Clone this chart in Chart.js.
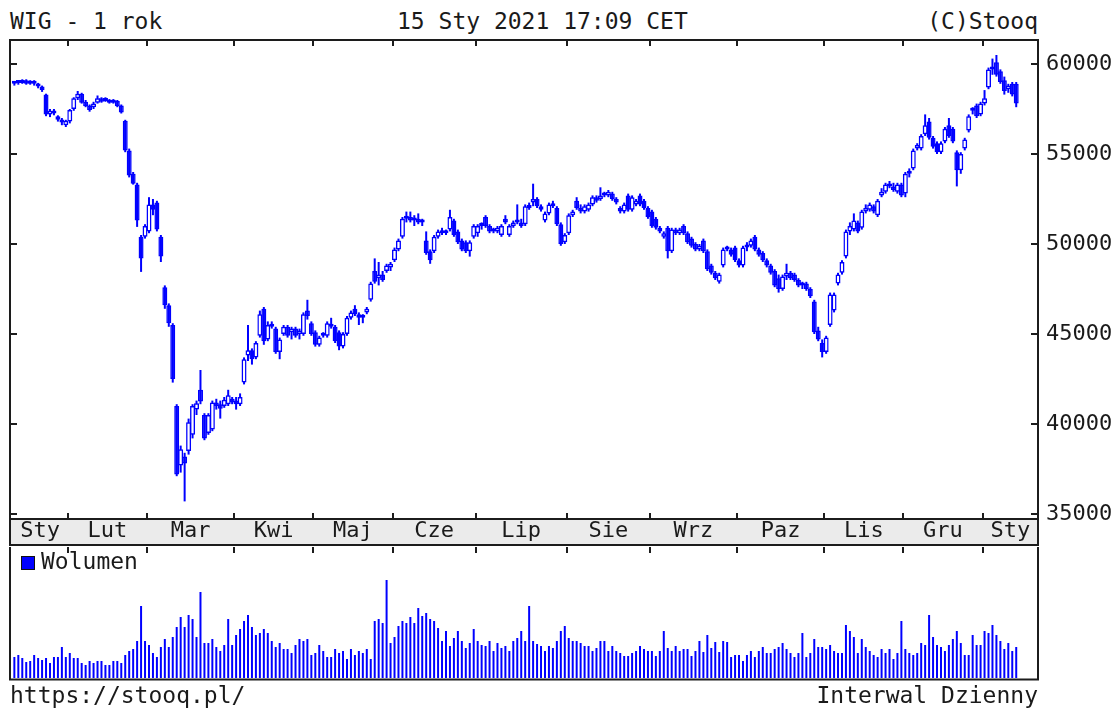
<!DOCTYPE html>
<html>
<head>
<meta charset="utf-8">
<script src="https://cdn.jsdelivr.net/npm/chart.js@4.4.0/dist/chart.umd.min.js"></script>
<style>
  body { margin: 0; background: #fff; width: 1117px; height: 709px; overflow: hidden; position: relative;
         font-family: "DejaVu Sans Mono", monospace; color: #1a1a1a; }
  .txt { position: absolute; font-size: 23px; line-height: 23px; white-space: pre; }
  canvas { position: absolute; left: 0; }
  #priceChart { top: 0; }
  #volChart { top: 547px; }
  #legBox { position: absolute; left: 21px; top: 556px; width: 12px; height: 12px; background: #0000ff; border: 1px solid #111; }
</style>
</head>
<body>
<div class="txt" style="left:10px; top:10px">WIG - 1 rok</div>
<div class="txt" style="left:397px; top:10px">15 Sty 2021 17:09 CET</div>
<div class="txt" style="right:79px; top:10px">(C)Stooq</div>
<canvas id="priceChart" width="1117" height="547"></canvas>
<canvas id="volChart" width="1117" height="162"></canvas>
<div id="legBox"></div>
<div class="txt" style="left:41px; top:550px">Wolumen</div>
<div class="txt" style="left:10px; top:684px">https://stooq.pl/</div>
<div class="txt" style="right:79px; top:684px">Interwal Dzienny</div>
<script>
// WIG, daily candles 14.01.2020 - 15.01.2021
const monthLabels = ['Sty', 'Lut', 'Mar', 'Kwi', 'Maj', 'Cze', 'Lip', 'Sie', 'Wrz', 'Paz', 'Lis', 'Gru', 'Sty'];
// index of the first session of each month
const monthStarts = [0, 14, 34, 56, 76, 96, 117, 140, 161, 183, 205, 225, 245];
const priceTicks = [35000, 40000, 45000, 50000, 55000, 60000];

const openVals = [
  58900,58950,58950,59100,58900,59000,58850,58750,58300,57200,57400,57100,56900,56600,
  56800,57500,58100,58350,57900,57700,57600,57850,58100,57950,58000,57850,57950,57700,56850,55200,53900,53300,50400,50400,
  50700,52200,52300,50400,47600,46600,45500,41000,37700,38200,38500,39400,40800,41900,40500,39500,39700,41200,41100,41000,41100,41400,
  41300,41100,42300,43800,44100,43700,44900,46400,44700,45500,45300,44000,45000,45400,45100,45300,45000,45000,46300,45600,
  45100,44400,44900,44900,45500,45400,45100,44300,45000,45900,46400,46100,45900,46200,46900,48500,48100,48300,48500,48700,
  49100,49700,50400,51400,51500,51300,51400,51200,50200,49600,49600,50400,50700,50600,50800,51300,50700,50200,50100,49600,50400,
  50600,51000,51500,51000,50800,50700,50500,51400,50500,51000,51200,51200,51100,52100,52300,52500,52100,51300,51700,52200,52000,51100,50100,
  50600,51600,52400,52000,51800,51900,52200,52600,52500,52700,52700,52800,52500,52000,51800,52700,51900,52200,52700,52400,52000,
  51800,51400,50900,50400,50900,49600,50800,50600,51000,50600,50300,50000,49700,50200,49600,48800,48400,47900,48800,49700,49700,49800,
  49100,48800,49800,49900,50400,49700,49500,49100,48800,48500,48100,47500,48200,48400,48300,48000,47700,47800,47500,46800,45200,44500,
  44000,45500,46300,47800,48400,49300,50700,50800,51200,50900,51800,51900,52100,51600,52700,52900,53300,53200,52900,53300,
  52800,53900,54200,55300,55300,56100,56800,55900,55600,55100,55700,56600,56400,55100,54100,55300,56300,57400,57700,57200,
  57800,58700,59700,60100,59600,59100,58600,58900,58900
];
const highVals = [
  59050,59100,59150,59150,59100,59100,58950,58800,58350,57500,57500,57150,57000,56900,
  57500,58150,58500,58400,58000,57750,57900,58250,58150,58150,58050,58050,58000,57750,56900,55300,54000,53400,50500,51100,
  52600,52500,52400,50500,47700,46700,45600,41100,38800,38400,40300,41100,41300,43000,40600,40600,41300,41400,41300,41500,41900,41500,
  41500,41700,43700,45500,44200,44600,46300,46500,45700,45700,45400,44800,45500,45500,45400,45400,45300,46200,46900,45700,
  45200,44900,45100,45700,45900,45500,45200,45100,46000,46300,46600,46200,46100,46500,47900,49200,49000,48500,48900,49000,
  49800,50300,51500,51800,51800,51600,51700,51400,50700,49700,50500,50800,50900,50800,51900,51400,50800,50300,50200,50200,51100,
  51100,51200,51600,51100,50900,51000,51100,51600,51100,51300,52200,51400,52200,52300,53350,52600,52200,51800,52300,52400,52100,51200,50600,
  51700,51900,52600,52200,52200,52300,52700,52700,53150,52900,53000,52900,52600,52100,52300,52800,52700,52500,52800,52500,52100,
  51900,51500,51000,50700,51000,50900,50900,50900,51100,50700,50400,50100,50000,50300,49700,48900,48500,48400,49800,49900,49800,49900,
  49200,49900,50100,50300,50500,49800,49600,49200,48900,48600,48300,48300,48900,48500,48400,48100,47900,47900,47600,46900,45400,44700,
  44900,47300,47300,48400,49100,50800,51200,51700,51300,51900,52200,52300,52200,52500,53100,53400,53500,53400,53400,53400,
  54000,54200,55300,55600,56100,57200,57000,56000,55700,55700,56500,57000,56500,55200,55100,55900,57200,57600,57800,57900,
  58550,59800,60300,60500,59700,59300,58900,59000,59000
];
const lowVals = [
  58800,58850,58900,58850,58850,58800,58650,58450,57100,57050,57150,56800,56600,56500,
  56700,57400,58000,57800,57600,57350,57500,57800,57850,57900,57800,57800,57600,57250,55100,53700,53300,50950,48450,50300,
  50600,51600,50700,49000,46400,45400,42300,37100,37300,35700,38300,39200,40500,41100,39100,39400,39600,40800,40300,40900,41000,41100,
  40800,41000,42200,43500,43300,43600,44800,44400,44600,45300,43900,43600,44900,44800,44700,44800,44700,44900,45800,44900,
  44300,44300,44800,44800,45300,44500,44100,44200,44900,45800,46000,45500,45600,46100,46800,47800,47700,47900,48400,48500,
  49000,49600,50300,51200,51200,51000,51100,51000,49400,48900,49500,50300,50500,50500,50700,50400,50000,49600,49500,49300,50300,
  50400,50800,50900,50600,50600,50600,50400,51100,50400,50900,51100,50900,51000,51900,52100,52000,51800,51200,51600,52000,51000,49900,50000,
  50500,51500,51900,51700,51700,51800,52100,52300,52400,52600,52600,52400,52200,51700,51700,51800,51800,52100,52100,51900,51400,
  50900,50800,50600,50300,49200,49500,50500,50500,50500,50000,49800,49600,49600,49500,48500,48300,48000,47800,48700,49600,49300,49000,
  48700,48700,49600,49800,49600,49300,49000,48700,48300,47600,47300,47400,48000,48000,47900,47600,47500,47400,47000,45000,44600,43700,
  43900,45400,46200,47700,48300,49200,50500,50700,50600,50800,51700,51800,51700,51500,52600,52800,53100,52900,52800,52600,
  52600,53700,54100,55200,55200,56000,55800,55300,55000,55000,55600,55900,55600,53200,53900,55200,56200,57200,57000,57100,
  57700,58600,59400,59300,58900,58300,58400,58200,57600
];
const closeVals = [
  58950,59000,59100,58900,59000,58900,58750,58550,57200,57400,57250,56900,56750,56850,
  57450,58100,58350,57850,57650,57450,57800,58100,57900,58050,57850,58000,57650,57300,55200,53800,53350,51300,49200,51000,
  52200,51900,50800,49300,46600,45600,42500,37200,38600,37800,40100,41000,41150,41250,39200,40500,41200,41000,40850,41350,41600,41200,
  41100,41500,43600,44100,43600,44500,46100,44600,45500,45400,44000,44700,45400,44900,45300,44900,45200,46100,46000,45000,
  44400,44800,45000,45600,45400,44600,44300,45000,45900,46200,46100,45900,46000,46400,47800,47900,48300,48000,48800,48900,
  49700,50200,51400,51500,51300,51400,51200,51300,49500,49100,50400,50700,50600,50700,51500,50500,50100,49700,49600,50100,51000,
  51000,51100,51000,50700,50700,50900,51000,51200,51000,51200,51300,51000,52100,52000,52500,52100,51900,51700,52200,52100,51100,50000,50500,
  51600,51800,52000,51800,52100,52200,52600,52400,52700,52800,52900,52500,52300,51800,52200,51900,52600,52400,52200,52000,51500,
  51000,50900,50700,50600,49600,50800,50600,50800,50600,50100,49900,49700,49900,49600,48600,48400,48100,48300,49700,49800,49400,49100,
  48800,49800,49900,50200,49700,49400,49100,48800,48400,47700,47500,48200,48400,48100,48000,47700,47800,47500,47100,45100,44700,44000,
  44800,47200,47200,48300,49000,50700,51000,51300,50700,51800,52000,52200,51800,52400,52900,53300,53200,53000,53300,52700,
  53900,54000,55200,55500,56000,56600,55900,55400,55100,55600,56400,56000,55700,54100,55000,55800,57100,57500,57100,57800,
  58100,59700,59800,59400,59000,58500,58800,58300,57800
];
// turnover, relative units
const volumeVals = [
  21,23,20,16,17,23,20,18,20,15, 21,21,31,21,25,20,20,15,13,17,
  15,17,17,13,13,17,17,15,23,27, 29,37,72,37,33,25,21,31,39,31,
  41,51,61,51,63,59,41,86,35,35, 39,31,27,33,59,33,43,49,57,63,
  51,43,45,49,45,37,31,35,29,29, 25,33,39,37,39,23,25,33,27,21,
  21,29,25,27,19,29,23,27,25,29, 19,57,59,55,98,35,41,
  52,57,55,61,55,70,62,65,59,57,50, 37,47,32,40,47,37,30,35,49,37,
  33,32,37,27,35,30,32,27,37,40, 47,37,72,37,34,32,27,32,30,37,
  47,52,40,37,37,35,32,32,27,30, 37,37,27,32,27,25,22,22,25,27,
  32,29,27,27,22,27,47,30,27,32, 27,29,29,22,27,37,
  26,43,30,36,26,37,36,21,23,23, 17,23,27,21,27,31,25,25,29,31,
  35,29,25,21,25,45,21,25,39,31, 31,29,33,27,25,25,53,47,41,25,
  39,31,27,23,21,29,25,29,19,25, 57,29,25,23,25,35,33,63,41,33,
  31,27,33,39,47,35,23,23,43,33, 33,47,45,53,43,37,29,35,27,31
];

const X_MIN = -1.1, X_MAX = 258.5;
const blue = '#0000ff';
const ink = '#1c1c1c';
const labelFont = { family: "'DejaVu Sans Mono', monospace", size: 22, lineHeight: 1 };
const days = closeVals.map((c, i) => i);

// label sits in the middle of its month
const monthCenters = monthStarts.map((s, k) => {
  const to = k + 1 < monthStarts.length ? monthStarts[k + 1] - 0.5 : X_MAX;
  return (s - 0.5 + to) / 2;
});

// frame, grey month band and the short inner ticks
const stooqFrame = {
  id: 'stooqFrame',
  beforeDraw(chart, args, o) {
    if (!o.band) return;
    const a = chart.chartArea, ctx = chart.ctx;
    ctx.save();
    ctx.fillStyle = '#ebebeb';
    ctx.fillRect(a.left, a.bottom, a.right - a.left, o.band);
    ctx.restore();
  },
  afterDraw(chart, args, o) {
    const a = chart.chartArea, ctx = chart.ctx;
    const xs = chart.scales.x, ys = chart.scales.y;
    ctx.save();
    ctx.strokeStyle = ink;
    ctx.lineWidth = 2;
    ctx.beginPath();
    if (o.band) {
      ctx.rect(a.left, a.top, a.right - a.left, a.bottom - a.top);
      ctx.rect(a.left, a.bottom, a.right - a.left, o.band);
    } else {
      ctx.moveTo(a.left, a.top - 2);
      ctx.lineTo(a.left, a.bottom + 1.5);
      ctx.lineTo(a.right, a.bottom + 1.5);
      ctx.lineTo(a.right, a.top - 2);
    }
    ctx.stroke();

    ctx.beginPath();
    monthStarts.slice(1).forEach(s => {
      const px = Math.round(xs.getPixelForValue(s - 0.5));
      ctx.moveTo(px, a.top);
      ctx.lineTo(px, a.top + 6);
      if (o.band) {
        ctx.moveTo(px, a.bottom);
        ctx.lineTo(px, a.bottom - 6);
      }
    });
    if (o.band) {
      priceTicks.forEach(v => {
        const py = Math.round(ys.getPixelForValue(v));
        ctx.moveTo(a.left, py);
        ctx.lineTo(a.left + 7, py);
        ctx.moveTo(a.right, py);
        ctx.lineTo(a.right - 7, py);
      });
    }
    ctx.stroke();
    ctx.restore();
  }
};

// Price chart: body = [open, close], wick = [low, high]
new Chart(document.getElementById('priceChart'), {
  type: 'bar',
  data: {
    datasets: [{
      label: 'korpus',
      data: days.map(i => ({ x: i, y: [openVals[i], closeVals[i]] })),
      backgroundColor: days.map(i => closeVals[i] >= openVals[i] ? '#ffffff' : blue),
      borderColor: blue,
      borderWidth: 1.5,
      borderSkipped: false,
      barThickness: 5,
      minBarLength: 3,
      inflateAmount: 0,
      grouped: false,
      order: 0
    }, {
      label: 'cień',
      data: days.map(i => ({ x: i, y: [lowVals[i], highVals[i]] })),
      backgroundColor: blue,
      borderWidth: 0,
      barThickness: 2,
      inflateAmount: 0,
      grouped: false,
      order: 1
    }]
  },
  options: {
    responsive: false,
    animation: false,
    events: [],
    layout: { padding: { left: 10, top: 40, right: 0, bottom: 2 } },
    plugins: {
      legend: { display: false },
      tooltip: { enabled: false },
      stooqFrame: { band: 26 }
    },
    scales: {
      x: {
        type: 'linear',
        offset: false,
        min: X_MIN,
        max: X_MAX,
        grid: { display: false, drawTicks: false, offset: false },
        border: { display: false },
        afterBuildTicks: ax => { ax.ticks = monthCenters.map(v => ({ value: v })); },
        afterFit: ax => { ax.height = 26; ax.paddingLeft = 0; ax.paddingRight = 0; },
        ticks: {
          autoSkip: false,
          maxRotation: 0,
          padding: 1,
          color: '#1a1a1a',
          font: labelFont,
          callback: (v, idx) => monthLabels[idx]
        }
      },
      y: {
        position: 'right',
        min: 34722,
        max: 61333,
        grid: { display: false, drawTicks: false },
        border: { display: false },
        afterBuildTicks: ax => { ax.ticks = priceTicks.map(v => ({ value: v })); },
        afterFit: ax => { ax.width = 79; ax.paddingTop = 0; ax.paddingBottom = 0; },
        ticks: {
          padding: 8,
          color: '#1a1a1a',
          font: labelFont,
          callback: v => String(v)
        }
      }
    }
  },
  plugins: [stooqFrame]
});

// Volume chart
new Chart(document.getElementById('volChart'), {
  type: 'bar',
  data: {
    datasets: [{
      label: 'Wolumen',
      data: days.map(i => ({ x: i, y: volumeVals[i] })),
      backgroundColor: blue,
      borderWidth: 0,
      barThickness: 2,
      inflateAmount: 0,
      grouped: false
    }]
  },
  options: {
    responsive: false,
    animation: false,
    events: [],
    layout: { padding: { left: 10, top: 0, right: 79, bottom: 31 } },
    plugins: {
      legend: { display: false },
      tooltip: { enabled: false },
      stooqFrame: { band: 0 }
    },
    scales: {
      x: { type: 'linear', offset: false, min: X_MIN, max: X_MAX, display: false, grid: { offset: false } },
      y: { min: 0, max: 131, display: false }
    }
  },
  plugins: [stooqFrame]
});
</script>
</body>
</html>
